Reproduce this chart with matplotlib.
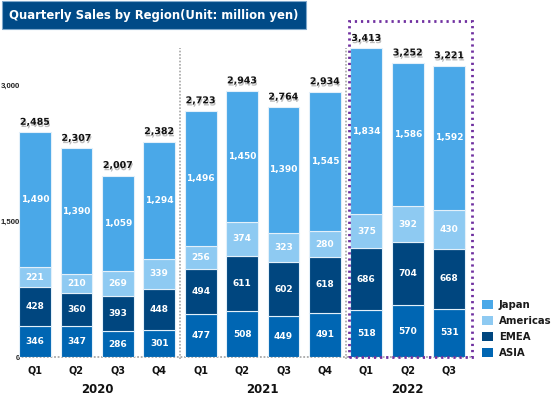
import matplotlib
matplotlib.use("Agg")
import matplotlib.pyplot as plt
import matplotlib.patheffects as pe
from matplotlib.patches import Rectangle, Patch
import numpy as np

quarters = ["Q1", "Q2", "Q3", "Q4", "Q1", "Q2", "Q3", "Q4", "Q1", "Q2", "Q3"]
years = ["2020", "2021", "2022"]
year_of = [0, 0, 0, 0, 1, 1, 1, 1, 2, 2, 2]
asia = [346, 347, 286, 301, 477, 508, 449, 491, 518, 570, 531]
emea = [428, 360, 393, 448, 494, 611, 602, 618, 686, 704, 668]
americas = [221, 210, 269, 339, 256, 374, 323, 280, 375, 392, 430]
japan = [1490, 1390, 1059, 1294, 1496, 1450, 1390, 1545, 1834, 1586, 1592]
totals = [2485, 2307, 2007, 2382, 2723, 2943, 2764, 2934, 3413, 3252, 3221]
yticks = [0, 1500, 3000]
ytick_labels = ["0", "1,500", "3,000"]

C_JAPAN = "#4AA8E8"
C_AMER = "#8ECAF2"
C_EMEA = "#00467F"
C_ASIA = "#0066B3"

W, H = 554, 397
fig = plt.figure(figsize=(W / 100, H / 100), dpi=100)
ax = fig.add_axes([16 / W, 40 / H, (474 - 16) / W, (357 - 21) / H])
ax.set_facecolor("none")

x = np.arange(len(quarters))
bw = 0.77
series = [("ASIA", asia, C_ASIA), ("EMEA", emea, C_EMEA),
          ("Americas", americas, C_AMER), ("Japan", japan, C_JAPAN)]
bottom = np.zeros(len(x))
for name, vals, col in series:
    vals = np.array(vals, dtype=float)
    ax.bar(x, vals, bw, bottom=bottom, color=col, edgecolor="#E3F0FA",
           linewidth=0.8, zorder=3)
    for xi, b, v in zip(x, bottom, vals):
        ax.text(xi, b + v / 2, f"{int(v):,}", ha="center", va="center",
                color="white", fontsize=6.5, fontweight="bold", zorder=4)
    bottom += vals

for xi, t in zip(x, totals):
    ax.annotate(f"{t:,}", (xi, t), xytext=(0, 4), textcoords="offset points",
                ha="center", va="bottom", fontsize=6.8, fontweight="bold",
                color="#111111", zorder=5,
                path_effects=[pe.SimplePatchShadow(offset=(0.6, -1.6),
                                                   shadow_rgbFace="#888888",
                                                   alpha=0.55),
                              pe.Normal()])

ymax = 336 / 0.0904
ax.set_xlim(-0.46, 10.6)
ax.set_ylim(0, ymax)
for s in ax.spines.values():
    s.set_visible(False)
ax.set_yticks(yticks)
ax.set_yticklabels(ytick_labels)
ax.tick_params(axis="y", length=0, pad=-2.6, labelsize=5.6, labelcolor="#222222")
for lbl in ax.get_yticklabels():
    lbl.set_fontweight("bold")
    lbl.set_family("Liberation Sans")
ax.set_xticks([])

# baseline
ax.plot([-0.42, 10.56], [0, 0], color="#A8A8A8", lw=1.3,
        linestyle=(0, (1, 1)), zorder=2, clip_on=False)
# year separators
for sx in [3.5, 7.51]:
    ax.plot([sx, sx], [-20, 3418], color="#A8A8A8", lw=1.2,
            linestyle=(0, (1, 1)), zorder=2, clip_on=False)
# highlight box
ax.add_patch(Rectangle((7.585, 0), 10.56 - 7.585, ymax, fill=False,
                       edgecolor="#7030A0", lw=2.0, linestyle=(0, (0.8, 1.4)),
                       zorder=6, clip_on=False))

# quarter and year labels
for xi, q in zip(x, quarters):
    ax.annotate(q, (xi, 0), xycoords=("data", "axes fraction"),
                xytext=(0, -10), textcoords="offset points", ha="center",
                va="center", fontsize=7, fontweight="bold", color="#111111")
for yi, yr in enumerate(years):
    idx = [i for i, k in enumerate(year_of) if k == yi]
    xc = (idx[0] + idx[-1]) / 2 if len(idx) % 2 == 0 else idx[len(idx) // 2]
    ax.annotate(yr, (xc, 0), xycoords=("data", "axes fraction"),
                xytext=(0, -23.5), textcoords="offset points", ha="center",
                va="center", fontsize=8.5, fontweight="bold", color="#111111")

# legend
handles = [Patch(facecolor=C_JAPAN, label="Japan"),
           Patch(facecolor=C_AMER, label="Americas"),
           Patch(facecolor=C_EMEA, label="EMEA"),
           Patch(facecolor=C_ASIA, label="ASIA")]
leg = fig.legend(handles=handles, loc="upper left",
                 bbox_to_anchor=(482 / W, (H - 300) / H), frameon=False,
                 fontsize=7.3, handlelength=1.1, handleheight=1.0,
                 handletextpad=0.55, labelspacing=0.58, borderpad=0,
                 borderaxespad=0)
for t in leg.get_texts():
    t.set_fontweight("bold")
    t.set_color("#1A1A1A")

# title box
fig.patches.append(Rectangle((2 / W, (H - 29) / H), 304 / W, 28 / H,
                             transform=fig.transFigure, facecolor="#004A87",
                             edgecolor="#7FA8CC", lw=0.8, zorder=10))
fig.text(9 / W, (H - 15) / H, "Quarterly Sales by Region(Unit: million yen)",
         color="white", fontsize=8.4, fontweight="bold", va="center",
         ha="left", zorder=11)

fig.savefig("out.png", dpi=100, facecolor="white")
